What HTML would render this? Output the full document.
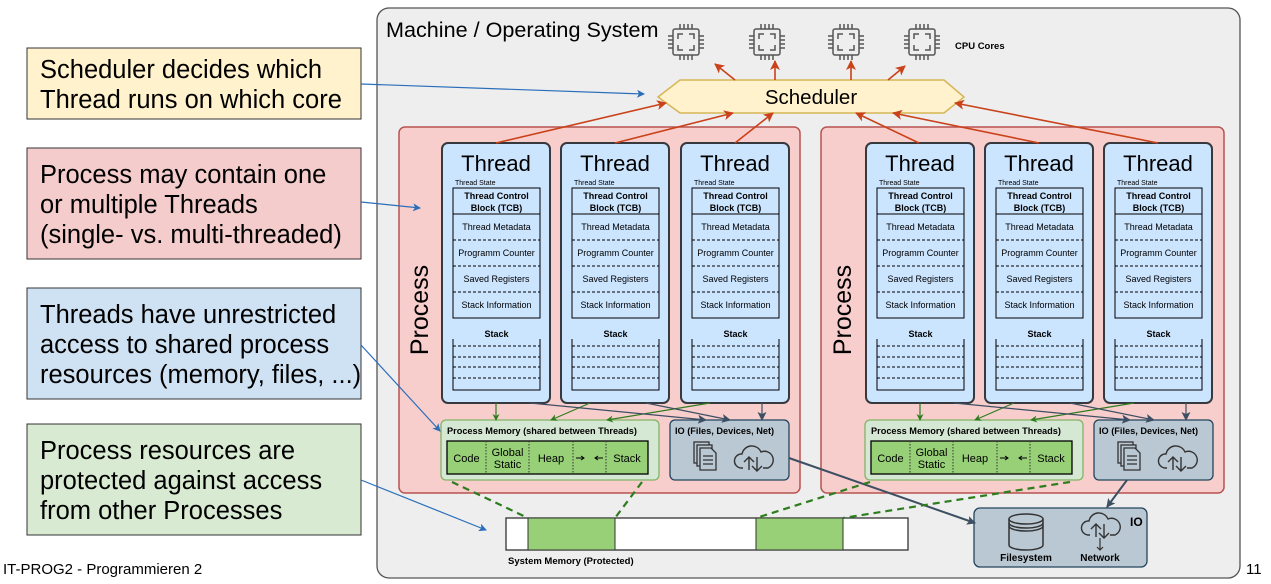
<!DOCTYPE html>
<html><head><meta charset="utf-8"><style>
html,body{margin:0;padding:0;background:#fff;width:1271px;height:584px;overflow:hidden}
svg{display:block;font-family:"Liberation Sans",Arial,sans-serif}
</style></head><body>
<svg width="1271" height="584" viewBox="0 0 1271 584" xmlns="http://www.w3.org/2000/svg">
<defs>
<marker id="ab" markerWidth="8" markerHeight="8" refX="7" refY="4" orient="auto" markerUnits="userSpaceOnUse"><path d="M0,0 L8,4 L0,8 L2,4z" fill="#2a6ebb"/></marker>
<marker id="ar" markerWidth="10" markerHeight="10" refX="9" refY="5" orient="auto" markerUnits="userSpaceOnUse"><path d="M0,0 L10,5 L0,10 L2.5,5z" fill="#c9421a"/></marker>
<marker id="ag" markerWidth="7" markerHeight="7" refX="6" refY="3.5" orient="auto" markerUnits="userSpaceOnUse"><path d="M0,0 L7,3.5 L0,7 L2,3.5z" fill="#2d7d1e"/></marker>
<marker id="ad" markerWidth="9" markerHeight="9" refX="8" refY="4.5" orient="auto" markerUnits="userSpaceOnUse"><path d="M0,0 L9,4.5 L0,9 L2,4.5z" fill="#3d4f63"/></marker>
<g id="cpu" fill="none" stroke="#555" stroke-width="1.5">
<rect x="-13" y="-13" width="26" height="26" rx="2"/>
<path d="M-8,-3 v-5 h5 M3,-8 h5 v5 M8,3 v5 h-5 M-3,8 h-5 v-5"/>
<path d="M-6,-13 v-5 M-2,-13 v-5 M2,-13 v-5 M6,-13 v-5 M-6,13 v5 M-2,13 v5 M2,13 v5 M6,13 v5 M-13,-6 h-5 M-13,-2 h-5 M-13,2 h-5 M-13,6 h-5 M13,-6 h5 M13,-2 h5 M13,2 h5 M13,6 h5"/>
</g>
<g id="doc" fill="#bac8d3" stroke="#333" stroke-width="1.3">
<rect x="0" y="0" width="15" height="21"/><rect x="3" y="3" width="15" height="21"/>
<path d="M6,6 h11 l5,5 v17 h-16z"/><path d="M9,14 h10 M9,18 h10 M9,22 h10" fill="none"/>
</g>
<g id="cloud" fill="none" stroke="#333" stroke-width="1.4">
<path d="M7,25 h-2 a7,7 0 0 1 1,-14 a10,10 0 0 1 19,-2 a8,8 0 0 1 7,16 h-5"/>
<path d="M13,27 v-13 m-5,5 l5,-5 l5,5 M21,14 v14 m-5,-5 l5,5 l5,-5"/>
</g>
<g id="th">
<rect x="0" y="0" width="108" height="260" rx="6" fill="#cce5ff" stroke="#36393d" stroke-width="2"/>
<text x="54" y="28" text-anchor="middle" font-size="22">Thread</text>
<text x="13" y="42" font-size="7">Thread State</text>
<rect x="11" y="45" width="87" height="130" fill="none" stroke="#000" stroke-width="1"/>
<line x1="11" y1="71" x2="98" y2="71" stroke="#000"/>
<g stroke="#000" stroke-dasharray="3,2"><line x1="11" y1="97" x2="98" y2="97"/><line x1="11" y1="123" x2="98" y2="123"/><line x1="11" y1="149" x2="98" y2="149"/></g>
<g font-size="9" text-anchor="middle"><text x="54.5" y="56" font-weight="bold">Thread Control</text><text x="54.5" y="68" font-weight="bold">Block (TCB)</text>
<text x="54.5" y="87">Thread Metadata</text><text x="54.5" y="113">Programm Counter</text><text x="54.5" y="139">Saved Registers</text><text x="54.5" y="165">Stack Information</text>
<text x="54.5" y="194" font-weight="bold">Stack</text></g>
<path d="M11,196 V247 H98 V196" fill="none" stroke="#000"/>
<g stroke="#000" stroke-dasharray="3,2"><line x1="11" y1="203" x2="98" y2="203"/><line x1="11" y1="214" x2="98" y2="214"/><line x1="11" y1="224" x2="98" y2="224"/><line x1="11" y1="235" x2="98" y2="235"/></g>
</g>
<g id="mem">
<rect x="0" y="0" width="218" height="60" rx="5" fill="#d5e8d4" stroke="#82b366" stroke-width="1.3"/>
<text x="6" y="14" font-size="9.2" font-weight="bold">Process Memory (shared between Threads)</text>
<rect x="6" y="21" width="201" height="33" fill="#97d077" stroke="#000" stroke-width="1.3"/>
<g stroke="#333" stroke-dasharray="1.5,1.5"><line x1="45" y1="21" x2="45" y2="54"/><line x1="88" y1="21" x2="88" y2="54"/><line x1="132" y1="21" x2="132" y2="54"/><line x1="165" y1="21" x2="165" y2="54"/></g>
<g font-size="11" text-anchor="middle"><text x="25.5" y="42">Code</text><text x="66.5" y="36">Global</text><text x="66.5" y="48">Static</text><text x="110" y="42">Heap</text><text x="186" y="42">Stack</text></g>
<path d="M135,38 h8 m-3,-2 l3,2 l-3,2 M162,38 h-8 m3,-2 l-3,2 l3,2" fill="none" stroke="#000" stroke-width="1"/>
</g>
<g id="io">
<rect x="0" y="0" width="119" height="60" rx="5" fill="#bac8d3" stroke="#23445d" stroke-width="1.3"/>
<text x="5" y="14" font-size="9.2" font-weight="bold">IO (Files, Devices, Net)</text>
<use href="#doc" x="24" y="22"/>
<use href="#cloud" x="66" y="23"/>
</g>
</defs>

<g stroke="#333" stroke-width="1">
<rect x="27" y="48" width="334" height="71" fill="#fff2cc"/>
<rect x="27" y="148" width="334" height="111" fill="#f4cccc"/>
<rect x="27" y="288" width="334" height="111" fill="#cfe2f3"/>
<rect x="27" y="424" width="334" height="111" fill="#d9ead3"/>
</g>
<g font-size="25.5" fill="#000">
<text x="40" y="78">Scheduler decides which</text>
<text x="40" y="108">Thread runs on which core</text>
<text x="40" y="183">Process may contain one</text>
<text x="40" y="213">or multiple Threads</text>
<text x="40" y="243">(single- vs. multi-threaded)</text>
<text x="40" y="323">Threads have unrestricted</text>
<text x="40" y="353">access to shared process</text>
<text x="40" y="383">resources (memory, files, ...)</text>
<text x="40" y="459">Process resources are</text>
<text x="40" y="489">protected against access</text>
<text x="40" y="519">from other Processes</text>
</g>
<text x="3" y="574" font-size="15">IT-PROG2 - Programmieren 2</text>
<text x="1246" y="574" font-size="15">11</text>

<rect x="377" y="8" width="863" height="570" rx="12" fill="#eeeeee" stroke="#555" stroke-width="1.3"/>
<text x="386" y="37" font-size="21.6">Machine / Operating System</text>
<use href="#cpu" x="686" y="42"/><use href="#cpu" x="767" y="42"/><use href="#cpu" x="846" y="42"/><use href="#cpu" x="922" y="42"/>
<text x="955" y="49" font-size="9.5" font-weight="bold">CPU Cores</text>

<polygon points="658,97 680,80 944,80 964,97 944,113 680,113" fill="#fff2cc" stroke="#d6b656" stroke-width="1.5"/>
<text x="811" y="104" text-anchor="middle" font-size="20.5">Scheduler</text>

<rect x="399" y="127" width="401" height="366" rx="6" fill="#f8cecc" stroke="#b85450" stroke-width="1.5"/>
<rect x="821" y="127" width="403" height="366" rx="6" fill="#f8cecc" stroke="#b85450" stroke-width="1.5"/>
<text transform="translate(428,310) rotate(-90)" text-anchor="middle" font-size="25">Process</text>
<text transform="translate(851,310) rotate(-90)" text-anchor="middle" font-size="25">Process</text>

<use href="#th" x="442" y="143"/><use href="#th" x="561" y="143"/><use href="#th" x="681" y="143"/>
<use href="#th" x="866" y="143"/><use href="#th" x="985" y="143"/><use href="#th" x="1104" y="143"/>

<use href="#mem" x="441" y="420"/><use href="#io" x="670" y="420"/>
<use href="#mem" x="865" y="420"/><use href="#io" x="1094" y="420"/>

<rect x="506" y="518" width="402" height="32" fill="#fff" stroke="#333" stroke-width="1.3"/>
<rect x="528" y="518" width="87" height="32" fill="#97d077" stroke="#333"/>
<rect x="756" y="518" width="87" height="32" fill="#97d077" stroke="#333"/>
<text x="508" y="564" font-size="9.5" font-weight="bold">System Memory (Protected)</text>

<rect x="974" y="508" width="173" height="59" rx="6" fill="#bac8d3" stroke="#23445d" stroke-width="1.3"/>
<text x="1130" y="526" font-size="12" font-weight="bold">IO</text>
<g fill="none" stroke="#333" stroke-width="1.5">
<path d="M1009,519 v26 a17,5 0 0 0 34,0 v-26"/><ellipse cx="1026" cy="519" rx="17" ry="5"/>
<path d="M1009,523 a17,5 0 0 0 34,0 M1009,526 a17,5 0 0 0 34,0"/>
</g>
<use href="#cloud" x="1083" y="510"/>
<path d="M1100,538 v12 m-3,-3 l3,3 l3,-3" fill="none" stroke="#333" stroke-width="1.2"/>
<text x="1026" y="561" text-anchor="middle" font-size="10" font-weight="bold">Filesystem</text>
<text x="1100" y="561" text-anchor="middle" font-size="10" font-weight="bold">Network</text>

<g stroke="#c9421a" stroke-width="1.6" fill="none" marker-end="url(#ar)">
<line x1="496" y1="143" x2="666" y2="103"/>
<line x1="615" y1="143" x2="733" y2="113"/>
<line x1="735" y1="143" x2="773" y2="113"/>
<line x1="919" y1="143" x2="856" y2="113"/>
<line x1="1039" y1="143" x2="893" y2="113"/>
<line x1="1158" y1="143" x2="955" y2="103"/>
<line x1="735" y1="80" x2="715" y2="64"/>
<line x1="775" y1="80" x2="775" y2="61"/>
<line x1="851" y1="80" x2="851" y2="61"/>
<line x1="888" y1="80" x2="905" y2="66"/>
</g>
<g stroke="#2d7d1e" stroke-width="1.2" fill="none" marker-end="url(#ag)">
<line x1="496" y1="403" x2="496" y2="420"/>
<line x1="590" y1="403" x2="551" y2="420"/>
<line x1="710" y1="403" x2="607" y2="420"/>
<line x1="920" y1="403" x2="920" y2="420"/>
<line x1="1014" y1="403" x2="975" y2="420"/>
<line x1="1134" y1="403" x2="1031" y2="420"/>
</g>
<g stroke="#3d4f63" stroke-width="1.2" fill="none" marker-end="url(#ad)">
<line x1="530" y1="403" x2="706" y2="420"/>
<line x1="646" y1="403" x2="730" y2="420"/>
<line x1="762" y1="403" x2="762" y2="420"/>
<line x1="954" y1="403" x2="1130" y2="420"/>
<line x1="1070" y1="403" x2="1154" y2="420"/>
<line x1="1186" y1="403" x2="1186" y2="420"/>
</g>
<g stroke="#3d4f63" stroke-width="2" fill="none" marker-end="url(#ad)">
<line x1="789" y1="458" x2="975" y2="523"/>
<line x1="1127" y1="480" x2="1107" y2="507"/>
</g>
<g stroke="#2d7d1e" stroke-width="2.2" stroke-dasharray="7,5" fill="none">
<line x1="452" y1="482" x2="528" y2="518"/>
<line x1="642" y1="482" x2="615" y2="518"/>
<line x1="870" y1="482" x2="756" y2="518"/>
<line x1="1070" y1="482" x2="843" y2="518"/>
</g>
<g stroke="#2a6ebb" stroke-width="1.2" fill="none" marker-end="url(#ab)">
<line x1="361" y1="84" x2="644" y2="94"/>
<line x1="361" y1="202" x2="420" y2="208"/>
<line x1="361" y1="345" x2="440" y2="431"/>
<line x1="361" y1="480" x2="486" y2="530"/>
</g>
</svg>
</body></html>
